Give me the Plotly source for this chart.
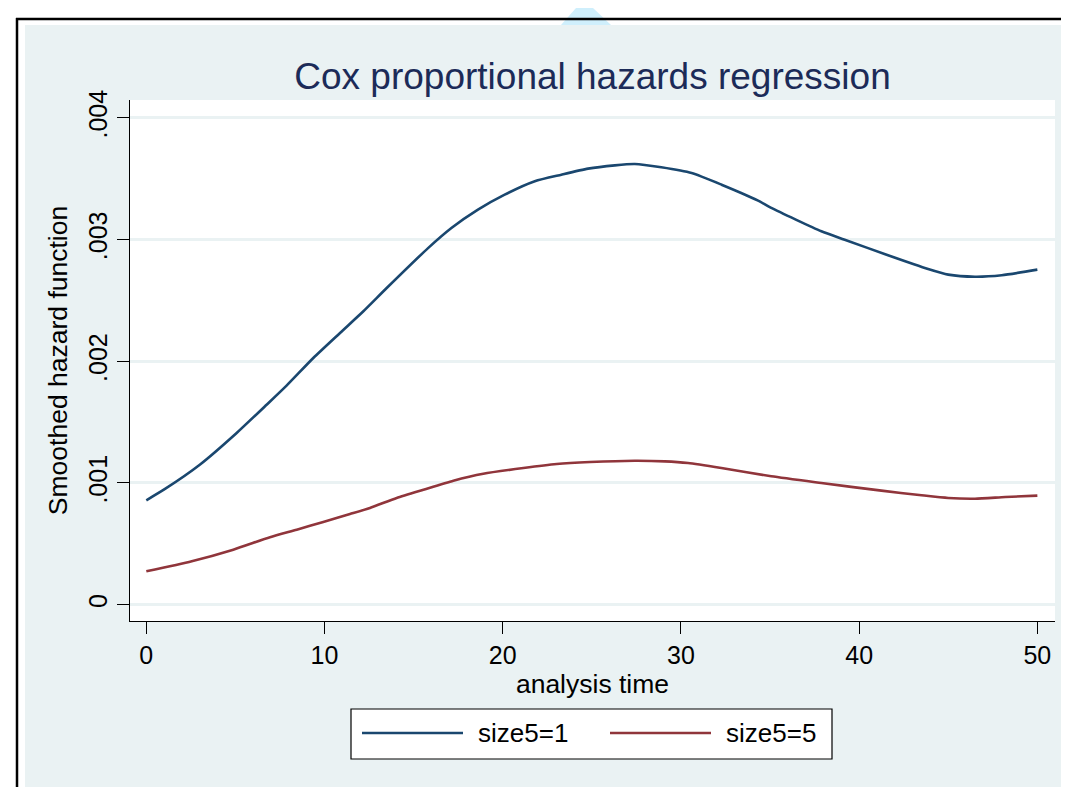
import plotly.graph_objects as go

# ---- data ----
t_size1 = [0, 1.05, 3.0, 5.07, 6.75, 7.87, 9.37, 10.87, 12.18, 13.49, 15.81, 17.12, 18.61,
           20.11, 21.8, 23.29, 24.79, 26.29, 27.41, 28.9, 30.6, 32.28, 34.33, 35.07, 37.88,
           39.19, 41.62, 43.87, 45.0, 46.5, 48.0, 50.0]
h_size1 = [0.858, 0.951, 1.150, 1.411, 1.643, 1.800, 2.027, 2.233, 2.411, 2.602, 2.930, 3.095,
           3.246, 3.369, 3.479, 3.533, 3.583, 3.610, 3.621, 3.594, 3.547, 3.451, 3.320, 3.260,
           3.068, 2.999, 2.871, 2.758, 2.712, 2.695, 2.707, 2.753]

t_size5 = [0, 2.55, 4.88, 6.94, 8.44, 9.93, 11.43, 12.55, 14.05, 15.55, 17.23, 18.91, 21.16,
           23.03, 24.9, 27.4, 29.1, 30.4, 32.27, 35.07, 37.88, 41.25, 43.5, 45.0, 46.5, 48.2, 50.0]
h_size5 = [0.274, 0.357, 0.452, 0.554, 0.616, 0.680, 0.745, 0.795, 0.877, 0.945, 1.019, 1.076,
           1.123, 1.156, 1.172, 1.183, 1.178, 1.164, 1.123, 1.055, 1.000, 0.937, 0.899, 0.877,
           0.871, 0.885, 0.896]

series_names = ["size5=1", "size5=5"]
x_ticks = [0, 10, 20, 30, 40, 50]
y_ticks = [0, 0.001, 0.002, 0.003, 0.004]
y_ticktext = ["0", ".001", ".002", ".003", ".004"]

title_text = "Cox proportional hazards regression"
x_title = "analysis time"
y_title = "Smoothed hazard function"

# ---- style ----
W, H = 1069, 787
PL, PR, PT, PB = 122, 1047, 92, 613
BLUE = "#1A476F"
RED = "#90353B"
BG = "#EAF2F3"
FONT = "Liberation Sans, Arial, Helvetica, sans-serif"


def px(x):
    return (x - PL) / (PR - PL)


def py(y):
    return (PB - y) / (PB - PT)


scale = 1e-3
fig = go.Figure()
fig.add_trace(go.Scatter(x=t_size1, y=[v * scale for v in h_size1], mode="lines",
                         name=series_names[0], line=dict(color=BLUE, width=2.6, shape="spline", smoothing=0.6),
                         showlegend=False))
fig.add_trace(go.Scatter(x=t_size5, y=[v * scale for v in h_size5], mode="lines",
                         name=series_names[1], line=dict(color=RED, width=2.6, shape="spline", smoothing=0.6),
                         showlegend=False))

shapes = []
# white margin outside frame
shapes.append(dict(type="rect", xref="paper", yref="paper", x0=px(0), x1=px(17), y0=py(H), y1=py(0),
                   fillcolor="white", line=dict(width=0), layer="above"))
shapes.append(dict(type="rect", xref="paper", yref="paper", x0=px(0), x1=px(W), y0=py(17), y1=py(0),
                   fillcolor="white", line=dict(width=0), layer="above"))
# faint watermark fragment
shapes.append(dict(type="path", xref="paper", yref="paper",
                   path=f"M {px(568)} {py(0)} L {px(585)} {py(0)} L {px(603)} {py(17)} L {px(553)} {py(17)} Z",
                   fillcolor="#CFEFFC", line=dict(width=0), layer="above"))
# black frame lines
shapes.append(dict(type="line", xref="paper", yref="paper", x0=px(8), x1=px(W), y0=py(11), y1=py(11),
                   line=dict(color="black", width=2.5), layer="above"))
shapes.append(dict(type="line", xref="paper", yref="paper", x0=px(9), x1=px(9), y0=py(10), y1=py(H),
                   line=dict(color="black", width=2.5), layer="above"))
# legend box
LX0, LX1, LY0, LY1 = 343, 824, 701, 751
LYC = 725
shapes.append(dict(type="rect", xref="paper", yref="paper", x0=px(LX0), x1=px(LX1), y0=py(LY1), y1=py(LY0),
                   fillcolor="white", line=dict(color="black", width=1.2), layer="above"))
shapes.append(dict(type="line", xref="paper", yref="paper", x0=px(354), x1=px(455), y0=py(LYC), y1=py(LYC),
                   line=dict(color=BLUE, width=2.6), layer="above"))
shapes.append(dict(type="line", xref="paper", yref="paper", x0=px(602), x1=px(703), y0=py(LYC), y1=py(LYC),
                   line=dict(color=RED, width=2.6), layer="above"))

annotations = [
    dict(text=series_names[0], xref="paper", yref="paper", x=px(468), y=py(LYC), xanchor="left",
         yanchor="middle", showarrow=False, font=dict(family=FONT, size=26, color="black")),
    dict(text=series_names[1], xref="paper", yref="paper", x=px(716), y=py(LYC), xanchor="left",
         yanchor="middle", showarrow=False, font=dict(family=FONT, size=26, color="black")),
]

fig.update_layout(
    width=W, height=H,
    margin=dict(l=PL, r=W - PR, t=PT, b=H - PB, pad=0),
    paper_bgcolor=BG, plot_bgcolor="white",
    font=dict(family=FONT, size=25, color="black"),
    title=dict(text=title_text, x=0.5, xref="paper", y=1 - 68 / H, yref="container",
               xanchor="center", yanchor="middle",
               font=dict(family=FONT, size=37, color="#1C2B58")),
    shapes=shapes,
    annotations=annotations,
    showlegend=False,
    xaxis=dict(range=[-0.915, 50.99], tickvals=x_ticks, ticks="outside", ticklen=12, tickwidth=1,
               tickcolor="black", showline=True, linecolor="black", linewidth=1, showgrid=False,
               zeroline=False, tickfont=dict(size=25),
               title=dict(text=x_title, font=dict(size=26.5), standoff=4)),
    yaxis=dict(range=[-0.000134, 0.004147], tickvals=y_ticks, ticktext=y_ticktext, tickangle=-90,
               ticks="outside", ticklen=12, tickwidth=1, tickcolor="black", showline=True,
               linecolor="black", linewidth=1, showgrid=True, gridcolor=BG, gridwidth=2.5,
               zeroline=False, tickfont=dict(size=25),
               title=dict(text=y_title, font=dict(size=26.5), standoff=8)),
)

fig.write_html("out.html")
